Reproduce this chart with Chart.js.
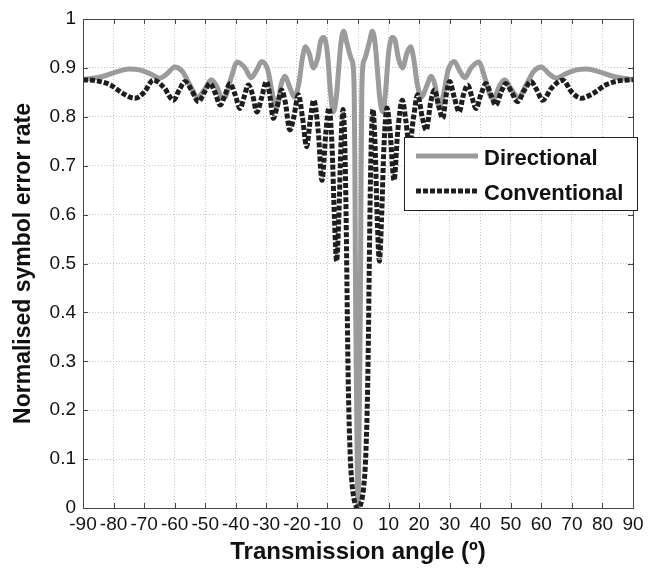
<!DOCTYPE html>
<html>
<head>
<title>Normalised symbol error rate vs transmission angle</title>
<script src="https://cdn.jsdelivr.net/npm/chart.js"></script>
<style>
    body {
        margin: 0;
        background-color: white;
    }
</style>
</head>
<body>
<canvas id="serChart" width="656" height="568"></canvas>

<script>
    // values (angle in degrees, normalised SER)
    const dirAngle = [-90, -84, -79, -75, -71.5, -68, -65, -62.5, -60, -57.5, -55, -52.5, -50, -48, -46.2, -44.5, -43.5, -41.5, -39.5, -37, -35, -33.2, -31.5, -29.5, -27.8, -26.5, -25.2, -24, -22.3, -20.8, -19.3, -18.2, -17.2, -16, -14.6, -13.2, -12.2, -11.2, -10, -9, -8.1, -7.1, -6.3, -5.6, -4.7, -3.8, -3, -2.2, -1.6, -1.25, -1.05, -0.9, -0.75, -0.5, -0.25,
        0, 0.25, 0.5, 0.75, 0.9, 1.05, 1.25, 1.6, 2.2, 3, 3.8, 4.7, 5.6, 6.3, 7.1, 8.1, 9, 10, 11.2, 12.2, 13.2, 14.6, 16, 17.2, 18.2, 19.3, 20.8, 22.3, 24, 25.2, 26.5, 27.8, 29.5, 31.5, 33.2, 35, 37, 39.5, 41.5, 43.5, 44.5, 46.2, 48, 50, 52.5, 55, 57.5, 60, 62.5, 65, 68, 71.5, 75, 79, 84, 90];
    const dirValue = [0.876, 0.882, 0.892, 0.898, 0.896, 0.888, 0.879, 0.888, 0.902, 0.893, 0.865, 0.84, 0.858, 0.876, 0.862, 0.838, 0.84, 0.88, 0.912, 0.9, 0.88, 0.895, 0.913, 0.895, 0.84, 0.82, 0.865, 0.883, 0.86, 0.84, 0.87, 0.92, 0.943, 0.93, 0.9, 0.92, 0.955, 0.962, 0.93, 0.85, 0.81, 0.84, 0.9, 0.95, 0.975, 0.955, 0.935, 0.918, 0.905, 0.85, 0.72, 0.55, 0.4, 0.25, 0.1,
        0, 0.1, 0.25, 0.4, 0.55, 0.72, 0.85, 0.905, 0.918, 0.935, 0.955, 0.975, 0.95, 0.9, 0.84, 0.81, 0.85, 0.93, 0.962, 0.955, 0.92, 0.9, 0.93, 0.943, 0.92, 0.87, 0.84, 0.86, 0.883, 0.865, 0.82, 0.84, 0.895, 0.913, 0.895, 0.88, 0.9, 0.912, 0.88, 0.84, 0.838, 0.862, 0.876, 0.858, 0.84, 0.865, 0.893, 0.902, 0.888, 0.879, 0.888, 0.896, 0.898, 0.892, 0.882, 0.876];

    const convAngle = [-90, -85, -81, -77, -73, -70, -67, -63.5, -60.4, -58.5, -56.6, -54.5, -52.2, -50.3, -48.4, -46.8, -45.1, -43.5, -41.9, -40.2, -38.6, -37.3, -35.9, -34.5, -33.1, -31.5, -30, -29, -27.7, -26.5, -25, -23.8, -22.3, -21, -19.5, -18.2, -16.8, -15.7, -14.5, -13, -11.8, -10.5, -9.5, -8.5, -7.7, -7, -6.3, -5.6, -4.9, -4.3, -3.9, -3.6, -3.3, -3, -2.5, -1.8, -1,
        0, 1, 1.8, 2.5, 3, 3.3, 3.6, 3.9, 4.3, 4.9, 5.6, 6.3, 7, 7.7, 8.5, 9.5, 10.5, 11.8, 13, 14.5, 15.7, 16.8, 18.2, 19.5, 21, 22.3, 23.8, 25, 26.5, 27.7, 29, 30, 31.5, 33.1, 34.5, 35.9, 37.3, 38.6, 40.2, 41.9, 43.5, 45.1, 46.8, 48.4, 50.3, 52.2, 54.5, 56.6, 58.5, 60.4, 63.5, 67, 70, 73, 77, 81, 85, 90];
    const convValue = [0.876, 0.873, 0.865, 0.848, 0.838, 0.85, 0.875, 0.86, 0.834, 0.855, 0.872, 0.855, 0.831, 0.85, 0.868, 0.85, 0.824, 0.845, 0.868, 0.845, 0.817, 0.84, 0.865, 0.845, 0.81, 0.84, 0.872, 0.85, 0.797, 0.82, 0.855, 0.83, 0.773, 0.8, 0.845, 0.8, 0.739, 0.79, 0.834, 0.77, 0.67, 0.77, 0.818, 0.74, 0.59, 0.505, 0.59, 0.74, 0.815, 0.74, 0.6, 0.45, 0.3, 0.2, 0.1, 0.04, 0.01,
        0, 0.01, 0.04, 0.1, 0.2, 0.3, 0.45, 0.6, 0.74, 0.815, 0.74, 0.59, 0.505, 0.59, 0.74, 0.818, 0.77, 0.67, 0.77, 0.834, 0.79, 0.739, 0.8, 0.845, 0.8, 0.773, 0.83, 0.855, 0.82, 0.797, 0.85, 0.872, 0.84, 0.81, 0.845, 0.865, 0.84, 0.817, 0.845, 0.868, 0.845, 0.824, 0.85, 0.868, 0.85, 0.831, 0.855, 0.872, 0.855, 0.834, 0.86, 0.875, 0.85, 0.838, 0.848, 0.865, 0.873, 0.876];

    const seriesNames = ['Directional', 'Conventional'];
    const FONT = "'Liberation Sans', Arial, sans-serif";
    const DIR_COLOR = '#9b9b9b';
    const CONV_COLOR = '#1e1e1e';

    // matlab style box, inward ticks and the legend inside the axes
    const matlabFrame = {
        id: 'matlabFrame',
        afterDraw(chart) {
            const ctx = chart.ctx;
            const a = chart.chartArea;
            const xs = chart.scales.x, ys = chart.scales.y;
            ctx.save();
            ctx.strokeStyle = '#444';
            ctx.lineWidth = 1;
            ctx.setLineDash([]);
            ctx.strokeRect(a.left + 0.5, a.top + 0.5, a.right - a.left, a.bottom - a.top);
            ctx.beginPath();
            xs.ticks.forEach(t => {
                const px = Math.round(xs.getPixelForValue(t.value)) + 0.5;
                ctx.moveTo(px, a.bottom); ctx.lineTo(px, a.bottom - 5);
                ctx.moveTo(px, a.top); ctx.lineTo(px, a.top + 5);
            });
            ys.ticks.forEach(t => {
                const py = Math.round(ys.getPixelForValue(t.value)) + 0.5;
                ctx.moveTo(a.left, py); ctx.lineTo(a.left + 5, py);
                ctx.moveTo(a.right, py); ctx.lineTo(a.right - 5, py);
            });
            ctx.stroke();

            // legend box
            const lx = 404, ly = 137, lw = 233, lh = 73;
            ctx.fillStyle = 'white';
            ctx.fillRect(lx, ly, lw, lh);
            ctx.strokeStyle = '#222';
            ctx.strokeRect(lx + 0.5, ly + 0.5, lw, lh);
            chart.data.datasets.forEach((ds, i) => {
                const y = 156 + i * 35;
                ctx.beginPath();
                ctx.lineWidth = ds.borderWidth;
                ctx.strokeStyle = ds.borderColor;
                ctx.setLineDash(ds.borderDash || []);
                ctx.lineCap = 'butt';
                ctx.moveTo(416, y);
                ctx.lineTo(478, y);
                ctx.stroke();
                ctx.setLineDash([]);
                ctx.fillStyle = '#111';
                ctx.font = 'bold 22px ' + FONT;
                ctx.textBaseline = 'alphabetic';
                ctx.textAlign = 'left';
                ctx.fillText(ds.label, 484, y + 8.5);
            });
            ctx.restore();
        }
    };

    const ctx = document.getElementById('serChart').getContext('2d');
    const serChart = new Chart(ctx, {
        type: 'line',
        data: {
            datasets: [
                {
                    label: seriesNames[0],
                    data: dirAngle.map((a, i) => ({ x: a, y: dirValue[i] })),
                    borderColor: DIR_COLOR,
                    borderWidth: 5,
                    cubicInterpolationMode: 'monotone',
                    borderJoinStyle: 'round',
                    order: 2
                },
                {
                    label: seriesNames[1],
                    data: convAngle.map((a, i) => ({ x: a, y: convValue[i] })),
                    borderColor: CONV_COLOR,
                    borderWidth: 5,
                    borderDash: [5, 2],
                    cubicInterpolationMode: 'monotone',
                    order: 1
                }
            ]
        },
        options: {
            responsive: false,
            animation: false,
            layout: { padding: { top: 19, right: 23, left: 0, bottom: 0 } },
            elements: { point: { radius: 0 } },
            plugins: {
                legend: { display: false },
                tooltip: { enabled: false }
            },
            scales: {
                x: {
                    type: 'linear',
                    min: -90,
                    max: 90,
                    afterFit: s => { s.height = 60; },
                    grid: { color: '#c4c4c4', drawTicks: false },
                    border: { display: false, dash: [1, 2] },
                    ticks: {
                        stepSize: 10,
                        autoSkip: false,
                        maxRotation: 0,
                        padding: 5,
                        color: '#111',
                        font: { family: FONT, size: 19 }
                    },
                    title: {
                        display: true,
                        text: 'Transmission angle (º)',
                        color: '#111',
                        font: { family: FONT, size: 24, weight: 'bold' },
                        padding: { top: 0, bottom: 1 }
                    }
                },
                y: {
                    min: 0,
                    max: 1,
                    afterFit: s => { s.width = 83; },
                    grid: { color: '#c4c4c4', drawTicks: false },
                    border: { display: false, dash: [1, 2] },
                    ticks: {
                        stepSize: 0.1,
                        padding: 7,
                        color: '#111',
                        font: { family: FONT, size: 19 },
                        callback: v => String(Number(v.toFixed(1)))
                    },
                    title: {
                        display: true,
                        text: 'Normalised symbol error rate',
                        color: '#111',
                        font: { family: FONT, size: 23, weight: 'bold' },
                        padding: { top: 10, bottom: 0 }
                    }
                }
            }
        },
        plugins: [matlabFrame]
    });
</script>
</body>
</html>
